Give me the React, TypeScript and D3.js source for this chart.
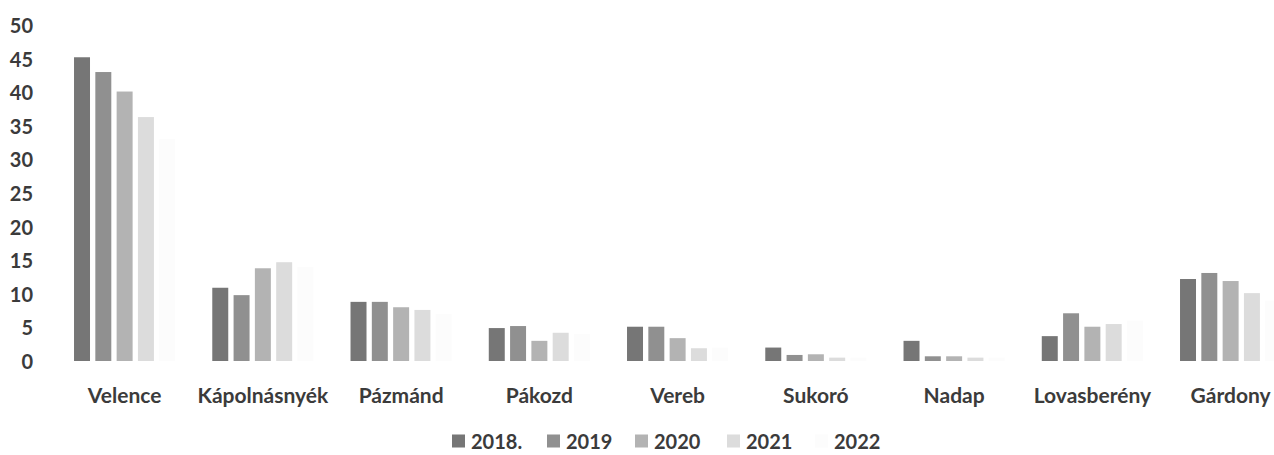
import React from "react";
import * as d3 from "d3";

const categories = [
  "Velence",
  "Kápolnásnyék",
  "Pázmánd",
  "Pákozd",
  "Vereb",
  "Sukoró",
  "Nadap",
  "Lovasberény",
  "Gárdony",
];
const seriesNames = ["2018", "2019", "2020", "2021", "2022"];
const legendLabels = ["2018.", "2019", "2020", "2021", "2022"];
const values2018 = [45.2, 10.9, 8.8, 4.9, 5.1, 2.0, 3.0, 3.7, 12.2];
const values2019 = [43.0, 9.8, 8.8, 5.2, 5.1, 0.9, 0.7, 7.1, 13.1];
const values2020 = [40.1, 13.8, 8.0, 3.0, 3.4, 1.0, 0.7, 5.1, 11.9];
const values2021 = [36.3, 14.7, 7.6, 4.2, 1.9, 0.5, 0.5, 5.5, 10.1];
const values2022 = [33.0, 14.0, 7.0, 4.0, 2.0, 0.5, 0.5, 6.0, 9.0];
const yTicks = [0, 5, 10, 15, 20, 25, 30, 35, 40, 45, 50];

const seriesValues = [values2018, values2019, values2020, values2021, values2022];
// 2022 is almost white in the scan
const colors = ["#767676", "#909090", "#b3b3b3", "#dcdcdc", "#fcfcfc"];

const W = 1274;
const H = 455;
const font = "Lato, 'Open Sans', sans-serif";
const textColor = "#3b3b3b";

export default function App() {
  // category bands: ~138px per village
  const x0 = d3.scaleBand<string>().domain(categories).range([55.5, 55.5 + 138.25 * 9]);
  const groupW = 101.2;
  const x1 = d3
    .scaleBand<string>()
    .domain(seriesNames)
    .range([(x0.step() - groupW) / 2, (x0.step() + groupW) / 2])
    .paddingInner(0.25);
  const y = d3.scaleLinear().domain([0, 50]).range([361, 25]);

  // legend positions
  const legendX = [452, 547, 635, 727, 815];
  const legendY = 441;

  return (
    <svg
      width={W}
      height={H}
      style={{ position: "absolute", left: 0, top: 0, background: "#ffffff" }}
    >
      <g fontFamily={font} fontSize={20} fontWeight={700} fill={textColor}>
        {yTicks.map((t) => (
          <text key={t} x={33} y={y(t)} textAnchor="end" dominantBaseline="central">
            {t}
          </text>
        ))}
      </g>

      {categories.map((c, ci) => (
        <g key={c} transform={`translate(${x0(c)},0)`}>
          {seriesNames.map((s, si) => {
            const v = seriesValues[si][ci];
            return (
              <rect
                key={s}
                x={x1(s)}
                y={y(v)}
                width={x1.bandwidth()}
                height={y(0) - y(v)}
                fill={colors[si]}
              />
            );
          })}
          <text
            x={x0.bandwidth() / 2}
            y={394}
            textAnchor="middle"
            dominantBaseline="central"
            fontFamily={font}
            fontSize={21}
            fontWeight={700}
            fill={textColor}
          >
            {c}
          </text>
        </g>
      ))}

      {legendLabels.map((l, i) => (
        <g key={l} transform={`translate(${legendX[i]},${legendY})`}>
          <rect x={0} y={-6.5} width={13} height={13} fill={colors[i]} />
          <text
            x={19}
            y={0}
            dominantBaseline="central"
            fontFamily={font}
            fontSize={20}
            fontWeight={700}
            fill={textColor}
          >
            {l}
          </text>
        </g>
      ))}
    </svg>
  );
}
